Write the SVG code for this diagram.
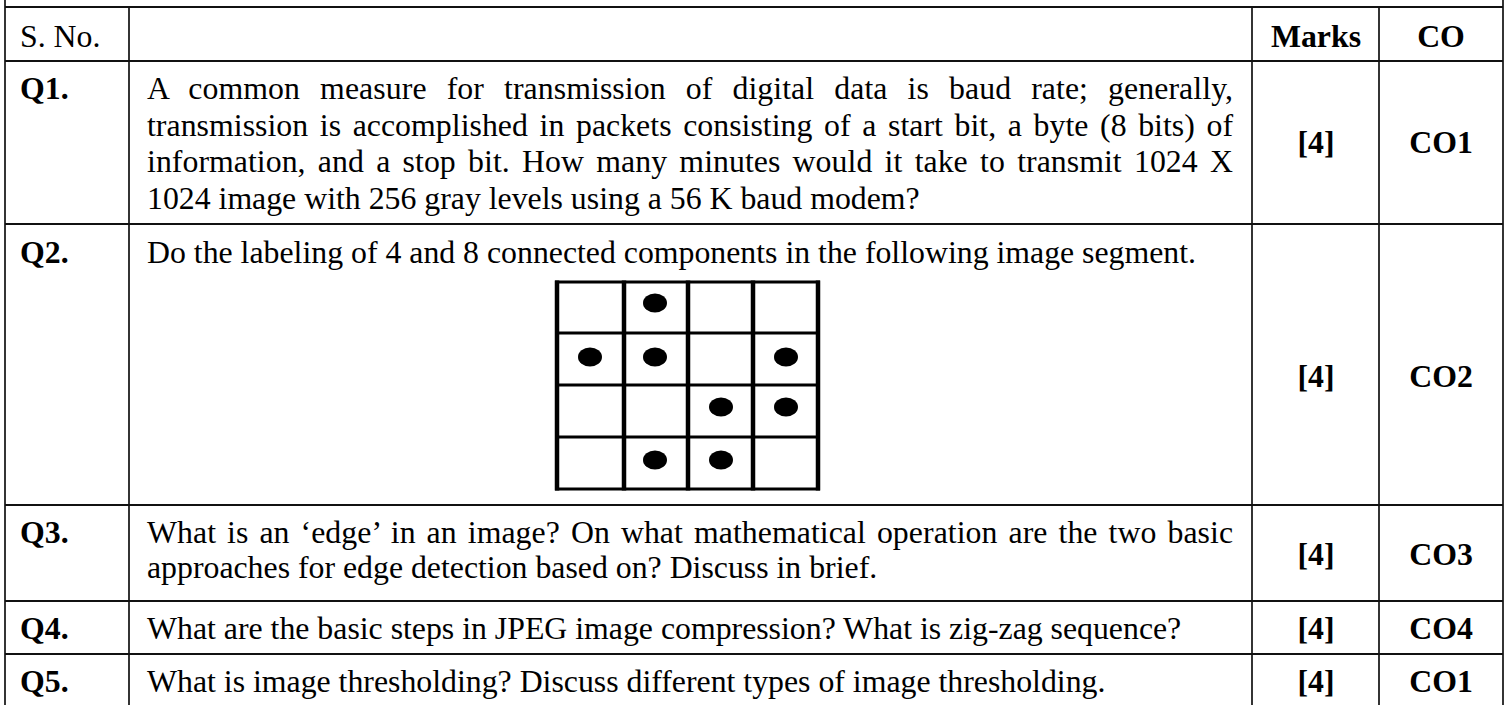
<svg xmlns="http://www.w3.org/2000/svg" width="1506" height="705" viewBox="0 0 1506 705">
<style>
.t{font-family:"Liberation Serif","Times New Roman",serif;font-size:31.8px;fill:#000}
.b{font-weight:bold}
.c{text-anchor:middle}
.rule{stroke:#111;stroke-width:2;fill:none}
.vr{stroke:#111;stroke-width:1.7;fill:none}
.gv{stroke:#000;stroke-width:4.5}
.gh{stroke:#000;stroke-width:3}
</style>
<rect width="1506" height="705" fill="#fff"/>
<g id="table-lines">
<line class="vr" x1="5" y1="0" x2="5" y2="705"/>
<line class="vr" x1="1503" y1="0" x2="1503" y2="705"/>
<line class="vr" x1="129" y1="7" x2="129" y2="705"/>
<line class="vr" x1="1252" y1="7" x2="1252" y2="705"/>
<line class="vr" x1="1379" y1="7" x2="1379" y2="705"/>
<line class="rule" x1="5" y1="7" x2="1503" y2="7"/>
<line class="rule" x1="5" y1="61" x2="1503" y2="61"/>
<line class="rule" x1="5" y1="224" x2="1503" y2="224"/>
<line class="rule" x1="5" y1="505" x2="1503" y2="505"/>
<line class="rule" x1="5" y1="601" x2="1503" y2="601"/>
<line class="rule" x1="5" y1="654" x2="1503" y2="654"/>
</g>
<g id="header">
<text class="t" x="20" y="47">S. No.</text>
<text class="t b c" x="1316" y="47">Marks</text>
<text class="t b c" x="1441" y="47">CO</text>
</g>
<g id="q1">
<text class="t b" x="20" y="99">Q1.</text>
<text class="t" x="147" y="99" word-spacing="12" textLength="1086" lengthAdjust="spacing">A common measure for transmission of digital data is baud rate; generally,</text>
<text class="t" x="147" y="135.5" word-spacing="3.6" textLength="1086" lengthAdjust="spacing">transmission is accomplished in packets consisting of a start bit, a byte (8 bits) of</text>
<text class="t" x="147" y="172" word-spacing="4.3" textLength="1086" lengthAdjust="spacing">information, and a stop bit. How many minutes would it take to transmit 1024 X</text>
<text class="t" x="147" y="208.5">1024 image with 256 gray levels using a 56 K baud modem?</text>
<text class="t b c" x="1316" y="153">[4]</text>
<text class="t b c" x="1441" y="153">CO1</text>
</g>
<g id="q2">
<text class="t b" x="20" y="263">Q2.</text>
<text class="t" x="147" y="263">Do the labeling of 4 and 8 connected components in the following image segment.</text>
<text class="t b c" x="1316" y="387">[4]</text>
<text class="t b c" x="1441" y="387">CO2</text>
<g id="q2-grid">
<line class="gv" x1="557" y1="280.5" x2="557" y2="490.5"/>
<line class="gv" x1="624" y1="280.5" x2="624" y2="490.5"/>
<line class="gv" x1="688" y1="280.5" x2="688" y2="490.5"/>
<line class="gv" x1="753" y1="280.5" x2="753" y2="490.5"/>
<line class="gv" x1="818" y1="280.5" x2="818" y2="490.5"/>
<line class="gh" x1="555" y1="282" x2="820" y2="282"/>
<line class="gh" x1="555" y1="333" x2="820" y2="333"/>
<line class="gh" x1="555" y1="385" x2="820" y2="385"/>
<line class="gh" x1="555" y1="437" x2="820" y2="437"/>
<line class="gh" x1="555" y1="489" x2="820" y2="489"/>
<g fill="#000">
<ellipse cx="655" cy="303" rx="12" ry="9.5"/>
<ellipse cx="590" cy="357" rx="12" ry="9.5"/>
<ellipse cx="655" cy="357" rx="12" ry="9.5"/>
<ellipse cx="786" cy="357" rx="12" ry="9.5"/>
<ellipse cx="721" cy="407" rx="12" ry="9.5"/>
<ellipse cx="786" cy="407" rx="12" ry="9.5"/>
<ellipse cx="655" cy="460" rx="12" ry="9.5"/>
<ellipse cx="721" cy="460" rx="12" ry="9.5"/>
</g>
</g>
</g>
<g id="q3">
<text class="t b" x="20" y="543">Q3.</text>
<text class="t" x="147" y="543" word-spacing="3" textLength="1086" lengthAdjust="spacing">What is an ‘edge’ in an image? On what mathematical operation are the two basic</text>
<text class="t" x="147" y="578">approaches for edge detection based on? Discuss in brief.</text>
<text class="t b c" x="1316" y="565">[4]</text>
<text class="t b c" x="1441" y="565">CO3</text>
</g>
<g id="q4">
<text class="t b" x="20" y="639">Q4.</text>
<text class="t" x="147" y="639">What are the basic steps in JPEG image compression? What is zig-zag sequence?</text>
<text class="t b c" x="1316" y="639">[4]</text>
<text class="t b c" x="1441" y="639">CO4</text>
</g>
<g id="q5">
<text class="t b" x="20" y="692">Q5.</text>
<text class="t" x="147" y="692">What is image thresholding? Discuss different types of image thresholding.</text>
<text class="t b c" x="1316" y="692">[4]</text>
<text class="t b c" x="1441" y="692">CO1</text>
</g>
</svg>
